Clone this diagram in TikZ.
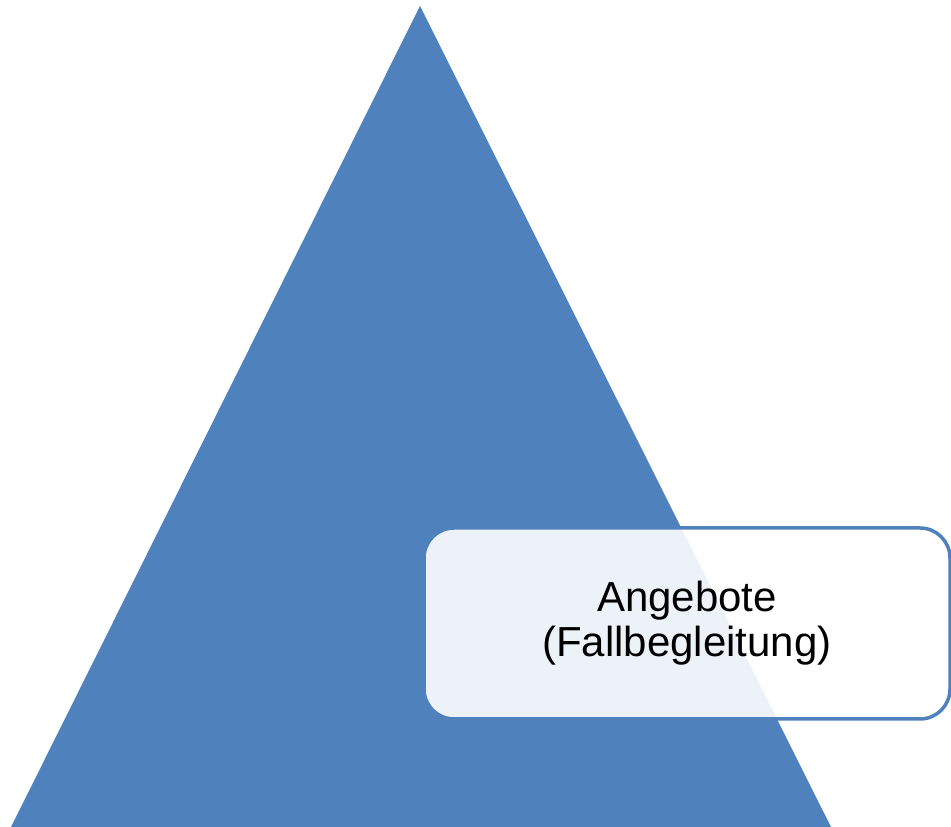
\documentclass[tikz,border=0pt]{standalone}
\usepackage{fontspec}
\setmainfont{Liberation Sans}
\definecolor{triblue}{HTML}{4F81BD}
\begin{document}
\begin{tikzpicture}[x=1pt,y=1pt,
  tri/.style={fill=triblue,draw=none},
  labelbox/.style={draw=triblue,draw opacity=1,line width=3.5pt,fill=white,fill opacity=0.9,text opacity=1,rounded corners=30pt,minimum width=526pt,minimum height=191pt,align=center,font=\fontsize{42}{45}\selectfont}]
\useasboundingbox (0,0) rectangle (951,827);
\coordinate (apex) at (420,821);
\coordinate (bl) at (11,0);
\coordinate (br) at (831,0);
\fill[tri] (apex) -- (br) -- (bl) -- cycle;
\node[labelbox] (box) at (687,203.5) {Angebote\\(Fallbegleitung)};
\end{tikzpicture}
\end{document}
